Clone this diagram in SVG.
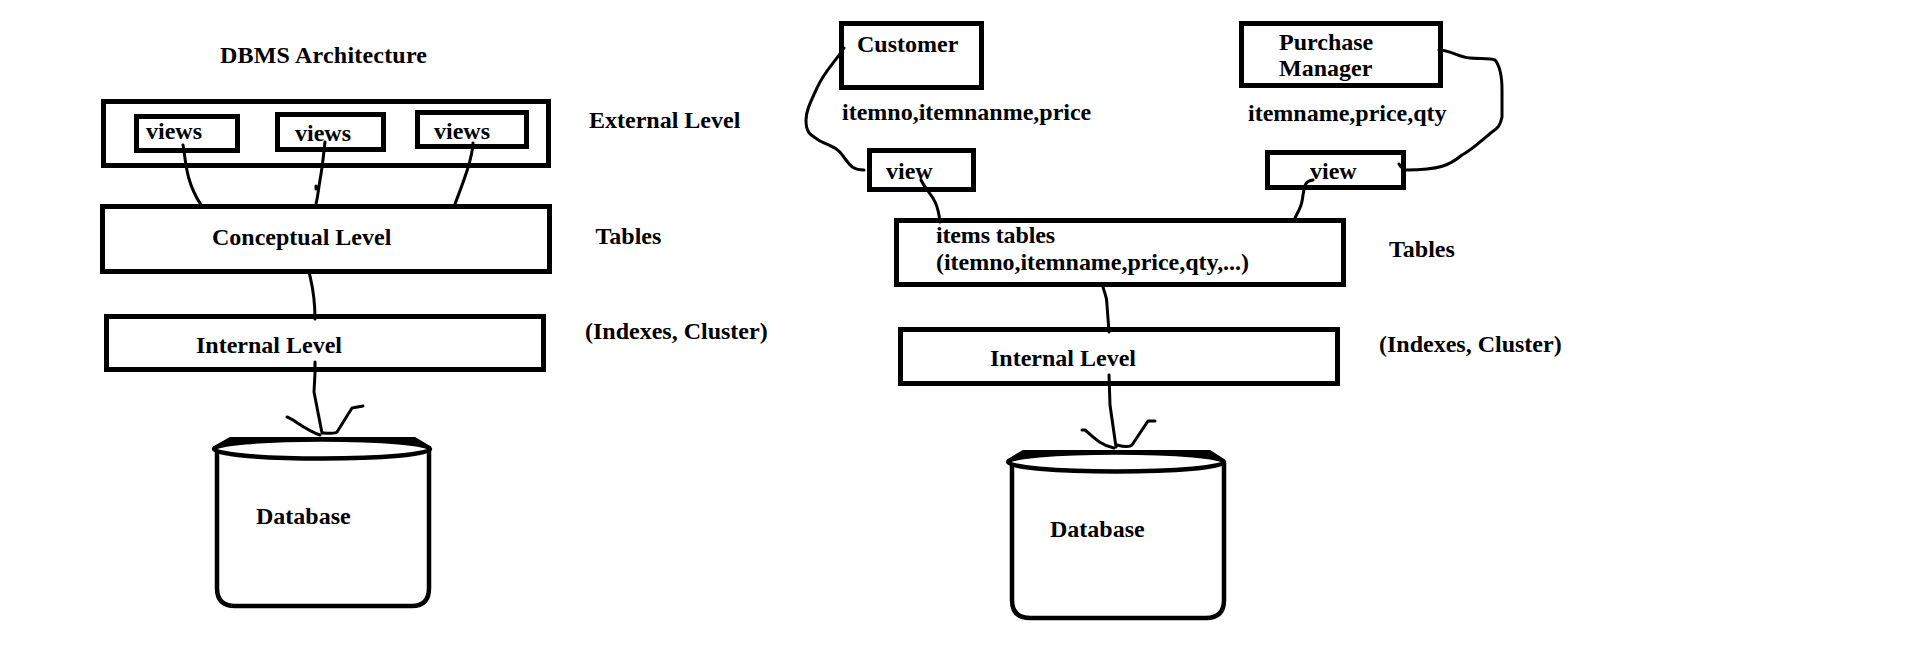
<svg xmlns="http://www.w3.org/2000/svg" width="1914" height="662" viewBox="0 0 1914 662">
<style>
text{font-family:"Liberation Serif","Times New Roman",serif;font-weight:bold;font-size:24px;fill:#000}
.box{fill:none;stroke:#000;stroke-width:5}
.cyl{fill:none;stroke:#000;stroke-width:4.5;stroke-linejoin:round}
.rim{fill:#fff;stroke:#000;stroke-width:4.5}
.cap{fill:#000;stroke:#000;stroke-width:2;stroke-linejoin:round}
.c{fill:none;stroke:#000;stroke-width:3;stroke-linecap:round;stroke-linejoin:round}
</style>
<rect width="1914" height="662" fill="#fff"/>
<text id="title" x="220" y="63" textLength="207">DBMS Architecture</text>
<g id="external"><rect class="box" x="103.500" y="101.500" width="445" height="64"/><text x="589" y="128">External Level</text></g>
<g id="views1"><rect class="box" x="136.500" y="116.500" width="101" height="34"/><text x="146" y="139">views</text></g>
<g id="views2"><rect class="box" x="277.500" y="114.500" width="106" height="35"/><text x="295" y="141">views</text></g>
<g id="views3"><rect class="box" x="417.500" y="112.500" width="109" height="34"/><text x="434" y="139">views</text></g>
<g id="conceptual"><rect class="box" x="102.500" y="206.500" width="447" height="65"/><text x="212" y="245">Conceptual Level</text></g>
<g id="tables-left"><text x="595.500" y="244">Tables</text></g>
<g id="internal"><rect class="box" x="106.500" y="316.500" width="437" height="53"/><text x="196" y="353">Internal Level</text></g>
<g id="indexes-left"><text x="585" y="339">(Indexes, Cluster)</text></g>
<g id="database-left">
<path class="cyl" d="M217,450V588Q217,606 235,606H412Q429,606 429,588V450"/>
<path class="cap" d="M214,447L230,438H415L430,447Z"/>
<ellipse class="rim" cx="322" cy="449" rx="108" ry="9.500"/>
<text x="256" y="524">Database</text>
</g>
<g id="customer"><rect class="box" x="841.500" y="23.500" width="140" height="64"/><text x="857" y="52">Customer</text></g>
<g id="purchase-manager"><rect class="box" x="1241.500" y="23.500" width="199" height="62"/><text x="1279" y="50">Purchase</text><text x="1279" y="76">Manager</text></g>
<g id="fields-customer"><text x="842" y="120">itemno,itemnanme,price</text></g>
<g id="fields-manager"><text x="1248" y="121">itemname,price,qty</text></g>
<g id="view1"><rect class="box" x="869.500" y="150.500" width="104" height="39"/><text x="886" y="179">view</text></g>
<g id="view2"><rect class="box" x="1267.500" y="152.500" width="136" height="35"/><text x="1310" y="179">view</text></g>
<g id="items"><rect class="box" x="896.500" y="220.500" width="447" height="64"/><text x="936" y="243" textLength="119">items tables</text><text x="936" y="270" textLength="313">(itemno,itemname,price,qty,...)</text></g>
<g id="tables-right"><text x="1389" y="257">Tables</text></g>
<g id="internal-right"><rect class="box" x="900.500" y="329.500" width="437" height="54"/><text x="990" y="366">Internal Level</text></g>
<g id="indexes-right"><text x="1379" y="352">(Indexes, Cluster)</text></g>
<g id="database-right">
<path class="cyl" d="M1012,463V600Q1012,618 1030,618H1206Q1224,618 1224,600V463"/>
<path class="cap" d="M1008,460L1023,451H1210L1224,460Z"/>
<ellipse class="rim" cx="1116" cy="462" rx="108" ry="9.500"/>
<text x="1050" y="537">Database</text>
</g>
<g id="connectors">
<path class="c" d="M183,145C186,160 185,180 200.500,204"/>
<path class="c" d="M325,142C323,160 322,170 320,180C318,192 318,196 316,204M316,186V189"/>
<path class="c" d="M473,143C472,160 464,180 455,204"/>
<path class="c" d="M309.500,274C312,285 315,295 315,319"/>
<path class="c" d="M315,362V373L314,392L322,433"/>
<path class="c" d="M287,417C292,418 305,430 320,435"/>
<path class="c" d="M323,433C330,433 335,434 337,432L352,408L363,406"/>
<path class="c" d="M844,48C835,62 824,72 817,88C809,105 806,112 806,120C806,135 812,135 820,141C830,146 837,147 843,156C850,165 852,170 864,170"/>
<path class="c" d="M921,180C928,195 937,195 940,222"/>
<path class="c" d="M1439,50C1450,50 1458,57 1470,58C1480,59 1490,58 1495,60C1500,66 1502,75 1502,90V117C1500,126 1498,128 1492,132C1482,140 1472,150 1462,155C1450,165 1440,170 1406,170M1399,164L1401,167"/>
<path class="c" d="M1313,180C1306,181 1305,183 1303,195C1302,205 1300,208 1295,218"/>
<path class="c" d="M1103,287C1105,295 1107,296 1107,305L1109,332"/>
<path class="c" d="M1109,375L1110,405L1116,447"/>
<path class="c" d="M1082,430H1085C1092,436 1100,445 1114,448"/>
<path class="c" d="M1117,445C1125,447 1130,447 1132,445L1148,421H1155"/>
</g>
</svg>
